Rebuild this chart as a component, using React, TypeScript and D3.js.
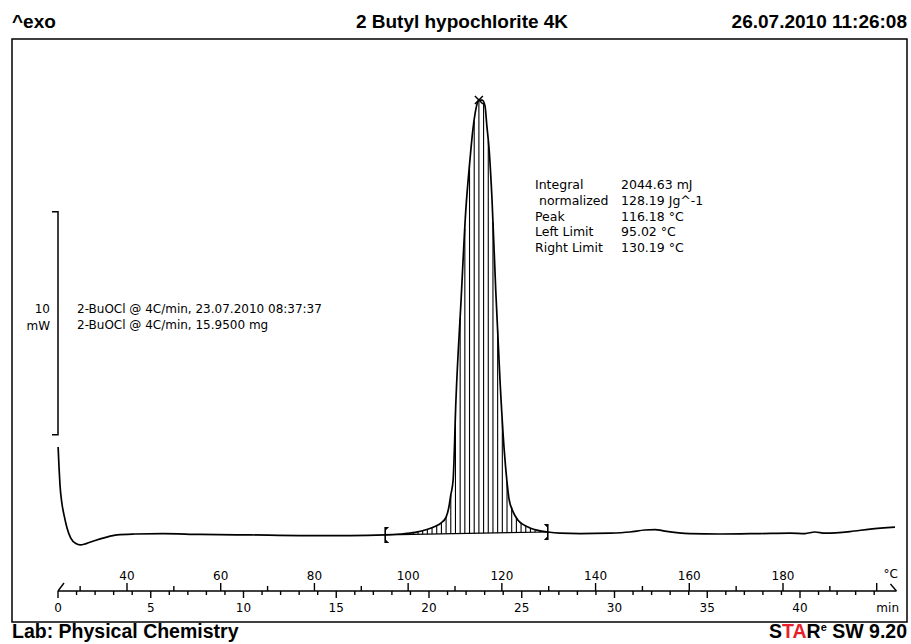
import React from "react";
import * as d3 from "d3";

const W = 911;
const H = 644;

// DSC run: sample temperature (°C) and heat flow (mW, relative to the flat baseline)
const tempC = [
  25.3, 25.5, 25.7, 26.1, 26.6, 27.2, 28.0, 29.1, 30.0, 31.3, 33.2, 35.3, 37.9, 41.7, 47.7,
  55.6, 66.2, 76.9, 87.6, 95.1, 98.3, 101.5, 104.0, 105.7, 107.0, 108.1, 108.7, 109.1, 109.6,
  110.2, 111.3, 112.3, 113.2, 113.8, 114.5, 115.1, 115.8, 116.4, 116.8, 117.3, 117.9, 118.7,
  119.6, 120.5, 121.1, 121.5, 122.4, 123.4, 124.5, 126.0, 127.7, 129.8, 132.4, 136.7, 143.1,
  147.3, 150.5, 152.7, 154.8, 160.1, 166.5, 175.1, 181.5, 184.7, 186.8, 189.0, 194.3, 198.6, 203.9,
];
const heatFlow = [
  3.9, 2.96, 2.2, 1.39, 0.81, 0.27, -0.18, -0.43, -0.49, -0.43, -0.29, -0.16, -0.04, 0, 0.02,
  -0.02, -0.04, -0.07, -0.07, -0.04, 0, 0.07, 0.2, 0.34, 0.49, 0.76, 1.21, 1.75, 2.42,
  6.0, 10.5, 14.5, 16.8, 18.1, 19.1, 19.46, 19.46, 19.2, 18.3, 17.2, 15.0, 10.9,
  6.9, 3.77, 2.33, 1.61, 0.99, 0.63, 0.43, 0.27, 0.16, 0.09, 0.04, 0.02, 0.04,
  0.09, 0.18, 0.2, 0.13, 0.02, 0, 0.02, 0.04, 0.02, 0.09, 0.04, 0.11, 0.22, 0.31,
];

// integration limits as placed on the curve (°C)
const limitTemps = [95.1, 129.8];

const tempMajorTicks = [40, 60, 80, 100, 120, 140, 160, 180];
const tempMinorTicks = [30, 50, 70, 90, 110, 130, 150, 170, 190, 200];
const timeMajorTicks = [0, 5, 10, 15, 20, 25, 30, 35, 40];
const timeMinorTicks = d3.range(0, 45, 1);
const timeAxisEnd = 45.2;

const resultLabels = ["Integral", "normalized", "Peak", "Left Limit", "Right Limit"];
const resultValues = ["2044.63 mJ", "128.19 Jg^-1", "116.18 °C", "95.02 °C", "130.19 °C"];
const resultIndent = [0, 4, 0, 0, 0];

const curveNames = [
  "2-BuOCl @ 4C/min, 23.07.2010 08:37:37",
  "2-BuOCl @ 4C/min, 15.9500 mg",
];

const scaleBarMw = 10;
const scaleBarFrom = 4.45;

const SANS = "'DejaVu Sans', Verdana, sans-serif";
const HEAD = "'Liberation Sans', Arial, sans-serif";

const App = () => {
  const data = tempC.map((t, i) => ({ t, q: heatFlow[i] }));

  const x = d3.scaleLinear().domain([40, 180]).range([127, 783]);
  const xTime = d3.scaleLinear().domain([0, 40]).range([58, 800]);
  const y = d3.scaleLinear().domain([0, 10]).range([534, 311]);

  const line = d3
    .line<{ t: number; q: number }>()
    .x((d) => x(d.t))
    .y((d) => y(d.q))
    .curve(d3.curveMonotoneX);

  // linear interpolation of the measured curve, used for the hatching
  const bis = d3.bisector((d: { t: number }) => d.t).left;
  const flowAt = (t: number) => {
    const i = Math.max(1, Math.min(data.length - 1, bis(data, t)));
    const a = data[i - 1];
    const b = data[i];
    return a.q + ((t - a.t) / (b.t - a.t)) * (b.q - a.q);
  };

  const [l0, l1] = limitTemps;
  const q0 = flowAt(l0);
  const q1 = flowAt(l1);
  const baseAt = (t: number) => q0 + ((t - l0) / (l1 - l0)) * (q1 - q0);
  const hatch = d3.range(l0 + 1, l1, 1).filter((t) => flowAt(t) > baseAt(t));

  const peak = data.reduce((m, d) => (d.q > m.q ? d : m), data[0]);

  const axisY = 591;
  const barX = xTime(0);

  const limitMarker = (t: number, side: number) => {
    const px = x(t);
    const py = y(flowAt(t));
    return (
      <g key={t}>
        <line x1={px} x2={px} y1={py - 8} y2={py + 8} stroke="#000" strokeWidth={1.6} />
        <path
          d={`M${px},${py - 8}L${px + 4 * side},${py - 8}L${px},${py - 4}Z M${px},${py + 8}L${px + 4 * side},${py + 8}L${px},${py + 4}Z`}
          fill="#000"
        />
      </g>
    );
  };

  return (
    <svg
      width={W}
      height={H}
      style={{ position: "absolute", left: 0, top: 0, background: "#fff" }}
    >
      <rect x={0} y={0} width={W} height={H} fill="#fff" />

      {/* header */}
      <g fontFamily={HEAD} fontWeight="bold" fontSize={19} fill="#000">
        <text x={12} y={28}>^exo</text>
        <text x={462} y={28} textAnchor="middle">2 Butyl hypochlorite 4K</text>
        <text x={907} y={28} textAnchor="end">26.07.2010 11:26:08</text>
      </g>

      <rect x={12} y={39} width={895} height={583} fill="none" stroke="#000" strokeWidth={1.5} />

      {/* 10 mW scale bar */}
      <path
        d={`M${barX - 6},${y(scaleBarFrom + scaleBarMw)}H${barX}V${y(scaleBarFrom)}H${barX - 6}`}
        fill="none"
        stroke="#000"
        strokeWidth={1.5}
      />
      <g fontFamily={SANS} fontSize={12} fill="#000" textAnchor="end">
        <text x={50} y={313}>10</text>
        <text x={50} y={330}>mW</text>
      </g>
      <g fontFamily={SANS} fontSize={12} fill="#000">
        {curveNames.map((n, i) => (
          <text key={n} x={77} y={313 + i * 16}>{n}</text>
        ))}
      </g>

      {/* integration hatching */}
      <g stroke="#000" strokeWidth={1.1}>
        {hatch.map((t) => (
          <line key={t} x1={x(t)} x2={x(t)} y1={y(baseAt(t))} y2={y(flowAt(t))} />
        ))}
        <line x1={x(l0)} x2={x(l1)} y1={y(q0)} y2={y(q1)} strokeWidth={1.2} />
      </g>

      <path d={line(data) ?? ""} fill="none" stroke="#000" strokeWidth={1.7} />

      {limitMarker(l0, 1)}
      {limitMarker(l1, -1)}

      <path
        d={`M${x(peak.t) - 4},${y(peak.q) - 4}l8,8M${x(peak.t) - 4},${y(peak.q) + 4}l8,-8`}
        stroke="#000"
        strokeWidth={1.5}
      />

      {/* integration results */}
      <g fontFamily={SANS} fontSize={12.5} fill="#000">
        {resultLabels.map((l, i) => (
          <g key={l}>
            <text x={535 + resultIndent[i]} y={189 + i * 15.75}>{l}</text>
            <text x={621} y={189 + i * 15.75}>{resultValues[i]}</text>
          </g>
        ))}
      </g>

      {/* combined temperature / time axis */}
      <g stroke="#000" strokeWidth={1.4} fill="none">
        <line x1={xTime(0)} x2={xTime(timeAxisEnd)} y1={axisY} y2={axisY} />
        <path d={`M${xTime(0)},${axisY}l6,-8`} />
        <path d={`M${xTime(timeAxisEnd)},${axisY}l-6,-7`} />
        {tempMajorTicks.map((t) => (
          <line key={"tM" + t} x1={x(t)} x2={x(t)} y1={axisY} y2={axisY - 8} />
        ))}
        {tempMinorTicks.map((t) => (
          <line key={"tm" + t} x1={x(t)} x2={x(t)} y1={axisY} y2={axisY - (t === 200 ? 8 : 5)} />
        ))}
        {timeMinorTicks.map((m) => (
          <line
            key={"mm" + m}
            x1={xTime(m)}
            x2={xTime(m)}
            y1={axisY}
            y2={axisY + (m % 5 === 0 ? 7 : 4)}
          />
        ))}
      </g>
      <g fontFamily={SANS} fontSize={12} fill="#000" textAnchor="middle">
        {tempMajorTicks.map((t) => (
          <text key={"lt" + t} x={x(t)} y={580}>{t}</text>
        ))}
        {timeMajorTicks.map((m) => (
          <text key={"lm" + m} x={xTime(m)} y={612}>{m}</text>
        ))}
        <text x={898} y={578} textAnchor="end">°C</text>
        <text x={899} y={612} textAnchor="end">min</text>
      </g>

      {/* footer */}
      <g fontFamily={HEAD} fontWeight="bold" fontSize={19.5} fill="#000">
        <text x={12} y={638}>Lab: Physical Chemistry</text>
        <text x={907} y={638} textAnchor="end">
          <tspan>S</tspan>
          <tspan fill="#e8202a">TA</tspan>
          <tspan>R</tspan>
          <tspan dy={-7} fontSize={11}>e</tspan>
          <tspan dy={7}> SW 9.20</tspan>
        </text>
      </g>
    </svg>
  );
};

export default App;
